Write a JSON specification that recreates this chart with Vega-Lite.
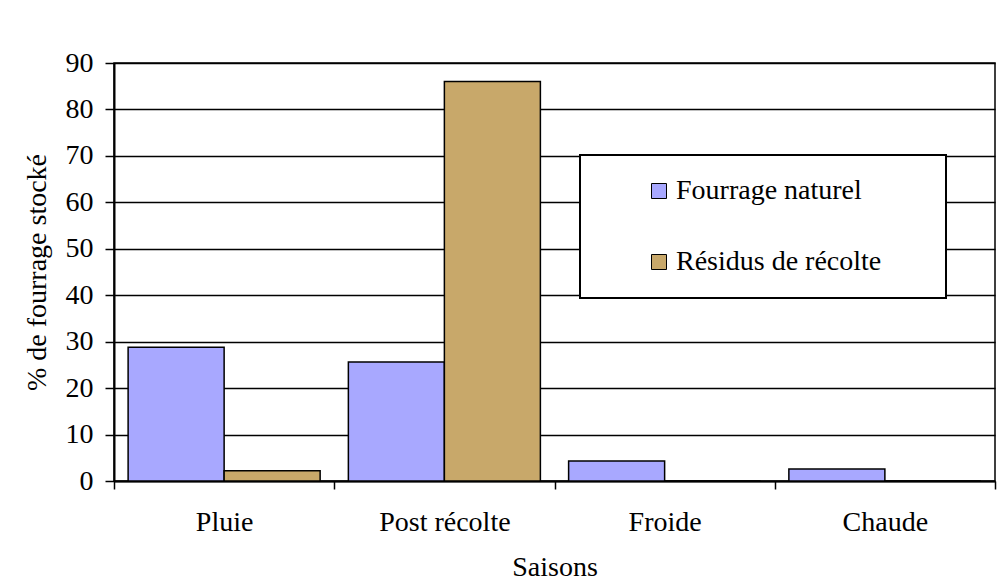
{
  "$schema": "https://vega.github.io/schema/vega-lite/v6.json",
  "width": 881,
  "height": 418,
  "autosize": {"type": "none"},
  "padding": {"left": 114, "top": 63, "right": 2, "bottom": 104},
  "background": "white",
  "data": {
    "values": [
      {"Saison": "Pluie", "Type": "Fourrage naturel", "Pct": 28.8},
      {"Saison": "Pluie", "Type": "Résidus de récolte", "Pct": 2.2},
      {"Saison": "Post récolte", "Type": "Fourrage naturel", "Pct": 25.6},
      {"Saison": "Post récolte", "Type": "Résidus de récolte", "Pct": 86.0},
      {"Saison": "Froide", "Type": "Fourrage naturel", "Pct": 4.3},
      {"Saison": "Froide", "Type": "Résidus de récolte", "Pct": 0},
      {"Saison": "Chaude", "Type": "Fourrage naturel", "Pct": 2.6},
      {"Saison": "Chaude", "Type": "Résidus de récolte", "Pct": 0}
    ]
  },
  "mark": {"type": "bar", "stroke": "black", "strokeWidth": 1.5},
  "encoding": {
    "x": {
      "field": "Saison",
      "type": "nominal",
      "sort": ["Pluie", "Post récolte", "Froide", "Chaude"],
      "scale": {"paddingInner": 0, "paddingOuter": 0},
      "axis": {
        "title": "Saisons",
        "labelAngle": 0,
        "tickBand": "extent",
        "grid": false,
        "tickSize": 8,
        "labelPadding": 19,
        "titlePadding": 17,
        "labelFontSize": 28,
        "titleFontSize": 28
      }
    },
    "xOffset": {
      "field": "Type",
      "sort": ["Fourrage naturel", "Résidus de récolte"],
      "scale": {"paddingInner": 0, "paddingOuter": 0.147}
    },
    "y": {
      "field": "Pct",
      "type": "quantitative",
      "scale": {"domain": [0, 90], "nice": false},
      "axis": {
        "title": "% de fourrage stocké",
        "values": [0, 10, 20, 30, 40, 50, 60, 70, 80, 90],
        "grid": true,
        "tickSize": 9,
        "labelPadding": 12,
        "titlePadding": 14,
        "labelFontSize": 28,
        "titleFontSize": 28
      }
    },
    "color": {
      "field": "Type",
      "type": "nominal",
      "sort": ["Fourrage naturel", "Résidus de récolte"],
      "scale": {"range": ["#a8a8ff", "#c8a86a"]},
      "legend": {
        "title": null,
        "orient": "none",
        "legendX": 466,
        "legendY": 92,
        "fillColor": "white",
        "strokeColor": "black",
        "padding": 22,
        "rowPadding": 43,
        "symbolType": "square",
        "symbolSize": 225,
        "symbolStrokeColor": "black",
        "symbolStrokeWidth": 1,
        "symbolOffset": 43,
        "labelOffset": 3,
        "labelLimit": 500,
        "labelFont": "Liberation Serif",
        "labelFontSize": 28,
        "labelColor": "black",
        "labelExpr": "datum.label + '\u2003\u2002\u200b'"
      }
    }
  },
  "config": {
    "font": "Liberation Serif",
    "view": {"stroke": "black", "strokeWidth": 1.5},
    "legend": {"strokeWidth": 2},
    "axis": {
      "labelFont": "Liberation Serif",
      "titleFont": "Liberation Serif",
      "labelFontSize": 28,
      "titleFontSize": 28,
      "titleFontWeight": "normal",
      "labelColor": "black",
      "titleColor": "black",
      "domainColor": "black",
      "domainWidth": 2,
      "tickColor": "black",
      "tickWidth": 1.5,
      "gridColor": "black",
      "gridWidth": 1.5,
      "gridOpacity": 1
    }
  }
}
